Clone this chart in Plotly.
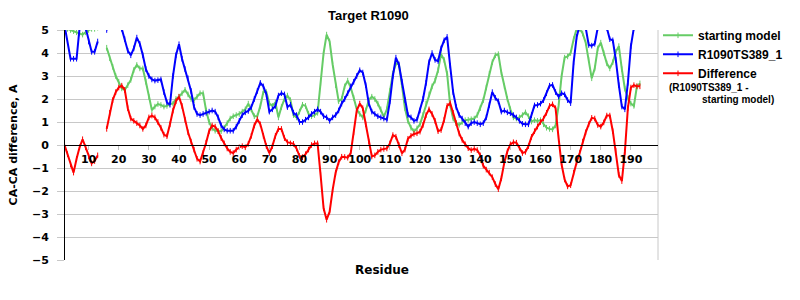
import plotly.graph_objects as go

residues = list(range(2, 194))

starting_model = [
    5.05, 5.05, 5.0, 4.95, 4.9, 4.85, 4.8, 4.9, 5.0, 5.05, 5.05, 5.1,
    None, None,
    4.23, 3.77, 3.4, 3.0, 2.75, 2.46, 2.39, 2.6, 2.83, 3.26,
    3.48, 3.33, 3.33, 2.75, 2.1, 1.52, 1.67, 1.78, 1.74, 1.67,
    1.7, 1.78, 1.8, 2.0, 2.1, 2.25, 2.4, 2.2, 2.0, 1.95,
    2.1, 2.25, 2.25, 1.5, 1.0, 0.72, 0.62, 0.6, 0.6, 0.75,
    0.95, 1.15, 1.25, 1.3, 1.35, 1.45, 1.55, 1.8, 1.55, 1.25,
    1.25, 1.7, 2.3, 2.3, 1.8, 1.7, 1.85, 1.2, 1.65, 2.0,
    2.15, 1.95, 1.3, 1.2, 1.45, 1.75, 1.7, 1.35, 1.25, 1.3,
    1.4, 2.7, 4.0, 4.8, 4.5, 3.5, 2.6, 1.9, 2.0, 2.55,
    2.8, 2.5, 2.05, 1.55, 1.35, 1.2, 1.5, 1.95, 2.1, 2.0,
    1.8, 1.55, 1.23, 1.55, 2.35, 3.1, 3.55, 3.5, 2.6, 1.6,
    1.05, 0.75, 0.6, 0.72, 0.9, 1.3, 1.8, 2.2, 2.55, 2.8,
    3.25, 3.95, 3.7, 3.1, 1.75, 1.15, 0.95, 0.88, 1.0, 1.08,
    1.1, 1.12, 1.15, 1.3, 1.6, 1.95, 2.5, 3.1, 3.6, 3.9,
    3.95, 3.15, 2.55, 2.0, 1.55, 1.2, 1.15, 1.2, 1.3, 1.42,
    1.25, 1.02, 1.08, 1.05, 1.08, 0.9, 0.75, 0.7, 0.68, 0.85,
    1.7, 3.0, 3.8, 3.85, 4.0, 4.6, 5.05, 5.05, 4.85, 4.45,
    3.7, 2.9, 3.33, 4.2, 4.45, 4.0, 3.55, 3.33, 3.6, 4.05,
    4.3, 3.3, 2.45, 2.05, 1.8, 1.7, 2.55, 2.68,
]

model_ts389 = [
    5.2, 4.5, 3.75, 3.75, 3.75, 5.1, 5.2, 5.1, 4.5, 4.05, 4.05, 4.5,
    None, None,
    5.0, 5.2, 5.35, 5.3, 5.25, 5.05, 4.6, 4.1, 3.9, 4.2,
    4.67, 4.4, 3.9, 3.3, 3.0, 2.85, 2.8, 2.82, 2.85, 2.3,
    1.85, 1.75, 3.0, 3.9, 4.38, 3.75, 3.3, 2.9, 2.35, 1.65,
    1.35, 1.3, 1.35, 1.4, 1.45, 1.5, 1.45, 1.2, 0.85, 0.68,
    0.62, 0.62, 0.62, 0.8, 1.05, 1.3, 1.42, 1.48, 1.65, 2.0,
    2.35, 2.7, 2.55, 2.2, 1.45, 1.55, 1.7, 2.15, 2.25, 2.2,
    1.65, 1.75, 1.4, 1.3, 1.0, 1.0, 1.1, 1.2, 1.35, 1.45,
    1.55, 1.45, 1.25, 1.2, 1.05, 1.2, 1.3, 1.5, 1.8, 2.0,
    2.25, 2.55, 2.75, 3.0, 3.25, 3.15, 2.6, 1.8, 1.45, 1.35,
    1.25, 1.2, 1.15, 1.1, 1.9, 3.0, 3.8, 3.5, 2.75, 1.95,
    1.3, 1.2, 1.05, 1.1, 1.5, 2.0, 2.7, 3.6, 4.0, 3.7,
    3.65, 4.2, 4.55, 4.7, 3.45, 2.3, 1.65, 1.3, 1.15, 0.95,
    0.8, 0.95, 1.0, 0.95, 0.9, 0.95, 1.2, 1.74, 2.3, 2.05,
    1.9, 1.45, 1.5, 1.42, 1.38, 1.3, 1.2, 1.05, 0.92, 0.9,
    0.9, 1.3, 1.72, 1.74, 1.8, 1.95, 2.25, 2.58, 2.61, 2.3,
    2.1, 2.25, 2.2, 1.95, 1.82, 3.6, 4.7, 5.2, 5.2, 5.1,
    4.35, 4.32, 4.4, 5.1, 5.3, 5.4, 5.1, 4.6, 4.55, 3.7,
    2.6, 1.67, 1.55, 2.7, 4.3, 5.1, 5.3, 5.4,
]

difference = [
    0.0, -0.4, -0.85, -1.2, -0.6, -0.1, 0.25, -0.1, -0.5, -0.8, -0.7, -0.45,
    None, None,
    0.7, 1.4, 1.95, 2.3, 2.5, 2.58, 2.4, 1.6, 1.15, 1.05,
    0.95, 0.85, 0.7, 0.85, 1.2, 1.28, 1.2, 1.0, 0.75, 0.45,
    0.38, 0.9, 1.5, 1.9, 2.1, 1.7, 1.1, 0.55, 0.15, -0.2,
    -0.6, -0.72, -0.35, 0.1, 0.6, 0.85, 0.8, 0.6, 0.3, 0.07,
    -0.15, -0.3, -0.35, -0.2, -0.1, -0.05, -0.1, 0.05, 0.4, 0.85,
    1.12, 0.9, 0.4, -0.05, -0.35, -0.05, 0.4, 0.7, 0.7, 0.3,
    0.12, 0.07, 0.05, -0.15, -0.48, -0.53, -0.4, -0.2, 0.0, 0.07,
    0.07, -1.3, -2.75, -3.25, -2.9, -1.95, -1.2, -0.75, -0.51, -0.52,
    -0.55, -0.35, 0.55, 1.5, 1.8, 1.6, 0.9, 0.15, -0.5, -0.45,
    -0.3, -0.2, -0.17, -0.15, 0.07, 0.43, 0.36, 0.0, -0.36, -0.2,
    0.27, 0.4, 0.48, 0.51, 0.58, 0.87, 1.3, 1.55, 1.35, 1.05,
    0.6, 0.65, 1.09, 1.7, 1.82, 1.4, 0.95, 0.5, 0.22, 0.03,
    -0.14, -0.22, -0.17, -0.22, -0.45, -0.9, -1.07, -1.2, -1.4, -1.7,
    -1.92, -1.45, -0.75, -0.28, 0.03, 0.12, 0.1, -0.12, -0.35, -0.3,
    -0.05, 0.35, 0.6, 0.8, 1.0, 1.15, 1.4, 1.7, 1.77, 1.6,
    0.3, -0.85, -1.5, -1.8, -1.75, -1.2, -0.75, -0.35, 0.15, 0.55,
    0.9, 1.18, 1.15, 0.87, 0.8, 0.98, 1.28, 1.28, 0.6, -0.25,
    -1.3, -1.57, -0.3, 1.6, 2.5, 2.6, 2.55, 2.55,
]

x_ticks = list(range(10, 200, 10))
y_ticks = list(range(-5, 6))

series = [
    ("starting model", starting_model, "#66cc66"),
    ("R1090TS389_1", model_ts389, "#0000ff"),
    ("Difference", difference, "#ff0000"),
]

fig = go.Figure()
for name, vals, col in series:
    fig.add_trace(go.Scatter(
        x=residues, y=vals, name=name, mode="lines+markers",
        connectgaps=False,
        line=dict(color=col, width=2),
        marker=dict(symbol="line-ns", size=4, color=col,
                    line=dict(color=col, width=1)),
    ))

tick_font = dict(family="DejaVu Sans", size=11, color="black", weight="bold")
leg_font = dict(family="Liberation Sans", size=12, color="black", weight="bold")
sub_font = dict(family="Liberation Sans", size=10, color="black", weight="bold")

fig.update_layout(
    width=800, height=300,
    margin=dict(l=50, r=140, t=30, b=40),
    paper_bgcolor="white", plot_bgcolor="white",
    showlegend=True,
    legend=dict(x=1.0, xanchor="left", y=1.04, yanchor="top", font=leg_font,
                tracegroupgap=0, itemwidth=30, bgcolor="rgba(0,0,0,0)"),
    xaxis=dict(range=[2.16, 199.0], tickvals=x_ticks, showgrid=False,
               anchor="free", position=0.5, showline=True, linecolor="black",
               linewidth=1, ticks="outside", ticklen=4, tickcolor="#c0c0c0",
               tickfont=tick_font, zeroline=False),
    yaxis=dict(range=[-5, 5], tickvals=y_ticks, showgrid=True,
               gridcolor="#c8c8c8", gridwidth=1, showline=True,
               linecolor="black", linewidth=1, ticks="outside", ticklen=7,
               tickcolor="#c8c8c8", tickfont=tick_font, zeroline=False,
               ticklabelstandoff=6,
               title=dict(text="CA-CA difference, A", standoff=12,
                          font=dict(family="DejaVu Sans", size=11, color="black", weight="bold"))),
    shapes=[dict(type="line", xref="paper", yref="paper", x0=1, x1=1, y0=0, y1=1,
                 line=dict(color="#c8c8c8", width=1), layer="below")],
    annotations=[
        dict(text="Target R1090", xref="paper", yref="paper", x=0.512, y=1.0,
             yshift=15, showarrow=False, xanchor="center", yanchor="middle",
             font=dict(family="Liberation Sans", size=13, color="black", weight="bold")),
        dict(text="Residue", xref="paper", yref="paper", x=0.534, y=0, yshift=-10,
             showarrow=False, xanchor="center", yanchor="middle",
             font=dict(family="DejaVu Sans", size=12, color="black", weight="bold")),
        dict(text="(R1090TS389_1 -", xref="paper", yref="paper", x=1.0, xshift=9, y=1.0,
             yshift=-57, showarrow=False, xanchor="left", yanchor="middle",
             font=sub_font),
        dict(text="starting model)", xref="paper", yref="paper", x=1.0, xshift=42, y=1.0,
             yshift=-69, showarrow=False, xanchor="left", yanchor="middle",
             font=sub_font),
    ],
)

fig.write_html("out.html")
